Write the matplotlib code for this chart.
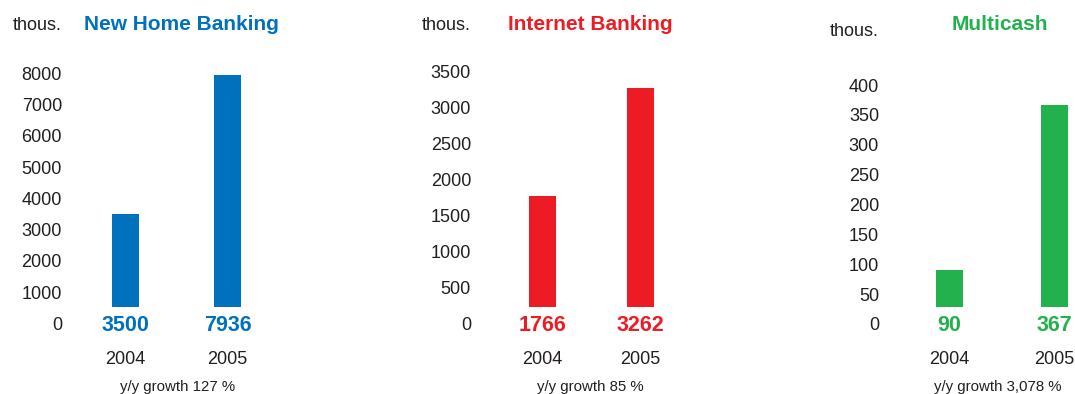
import matplotlib
matplotlib.use("Agg")
import matplotlib.pyplot as plt

titles = ["New Home Banking", "Internet Banking", "Multicash"]
years = ["2004", "2005"]
values_nhb = [3500, 7936]
values_ib = [1766, 3262]
values_mc = [90, 367]
growth = ["y/y growth 127 %", "y/y growth 85 %", "y/y growth 3,078 %"]
ymax = [8000, 3500, 400]
ystep = [1000, 500, 50]
colors = ["#0071bc", "#ed1c24", "#22b14c"]

plt.rcParams['font.family'] = ['Liberation Sans', 'DejaVu Sans']
TXT = "#231f20"

W, H = 1075, 394
fig = plt.figure(figsize=(W / 100, H / 100), dpi=100)

# pixel layout per panel (from top-left of the image)
layout = [
    dict(c0=125.5, c1=227.5, y0=323.5, ytop=73.3, lab=62, thous=30.5, tx=181.5, gx=178),
    dict(c0=542.5, c1=640.5, y0=324.0, ytop=71.0, lab=471, thous=30.5, tx=590.5, gx=590),
    dict(c0=949.5, c1=1054.5, y0=324.0, ytop=85.0, lab=879, thous=35.7, tx=999.5, gx=998),
]
PT = 0.72  # points per pixel at dpi 100

for k, vals in enumerate([values_nhb, values_ib, values_mc]):
    L = layout[k]
    d = L["c1"] - L["c0"]
    left = L["c0"] - 0.5 * d
    ax = fig.add_axes([left / W, (H - L["y0"]) / H, 2 * d / W, (L["y0"] - L["ytop"]) / H])
    ax.set_xlim(-0.5, 1.5)
    ax.set_ylim(0, ymax[k])
    for s in ax.spines.values():
        s.set_visible(False)
    ax.set_xticks([])
    ax.set_yticks(range(0, ymax[k] + 1, ystep[k]))
    ax.tick_params(axis="y", length=0, labelsize=13, labelcolor=TXT,
                   pad=(left - L["lab"]) * PT)
    ax.patch.set_alpha(0)

    # bars start a little above zero, leaving room for the value labels
    base = ymax[k] * 17.0 / (L["y0"] - L["ytop"])
    ax.bar([0, 1], [v - base for v in vals], bottom=base, width=27.0 / d,
           color=colors[k], linewidth=0)

    for i, v in enumerate(vals):
        ax.annotate(str(v), xy=(i, 0), xytext=(0, -(331 - L["y0"]) * PT),
                    textcoords="offset points", ha="center", va="baseline",
                    fontsize=15.5, fontweight="bold", color=colors[k])
        ax.annotate(years[i], xy=(i, 0), xytext=(0, -(364 - L["y0"]) * PT),
                    textcoords="offset points", ha="center", va="baseline",
                    fontsize=13, color=TXT)

    fig.text(L["gx"] / W, (H - 390.7) / H, growth[k], ha="center", va="baseline",
             fontsize=10.8, color=TXT)
    fig.text(L["tx"] / W, (H - 30.5) / H, titles[k], ha="center", va="baseline",
             fontsize=15, fontweight="bold", color=colors[k])
    fig.text(L["lab"] / W, (H - L["thous"]) / H, "thous.", ha="right", va="baseline",
             fontsize=13, color=TXT)

fig.savefig("out.png", dpi=100)
